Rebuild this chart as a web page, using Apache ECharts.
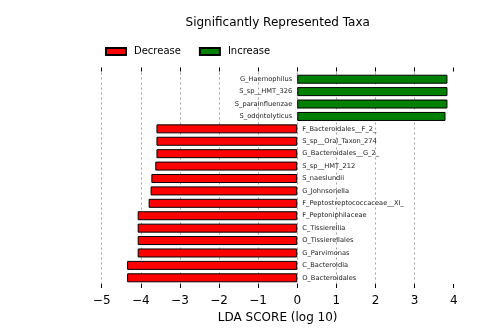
<!DOCTYPE html>
<html>
<head>
<meta charset="utf-8">
<script src="https://cdn.jsdelivr.net/npm/echarts@6/dist/echarts.min.js"></script>
<style>
html,body{margin:0;padding:0;background:#fff;}
#chart{width:504px;height:334px;}
</style>
</head>
<body>
<div id="chart"></div>
<script>
const categories = ['G_Haemophilus','S_sp__HMT_326','S_parainfluenzae','S_odontolyticus',
  'F_Bacteroidales__F_2_','S_sp__Oral_Taxon_274','G_Bacteroidales__G_2_','S_sp__HMT_212',
  'S_naeslundii','G_Johnsonella','F_Peptostreptococcaceae__XI_','F_Peptoniphilaceae',
  'C_Tissierellia','O_Tissierellales','G_Parvimonas','C_Bacteroidia','O_Bacteroidales'];
const decreaseValues = ['-','-','-','-',-3.60,-3.60,-3.60,-3.63,-3.73,-3.75,-3.80,-4.08,-4.08,-4.08,-4.08,-4.35,-4.35];
const increaseValues = [3.84,3.84,3.84,3.79,'-','-','-','-','-','-','-','-','-','-','-','-','-'];
const xTicks = [-5,-4,-3,-2,-1,0,1,2,3,4];
const titleText = 'Significantly Represented Taxa';
const axisTitle = 'LDA SCORE (log 10)';

const FONT = 'DejaVu Sans';
const L = 101.7, R = 504 - 453.7;
const chart = echarts.init(document.getElementById('chart'));
chart.setOption({
  animation: false,
  backgroundColor: '#fff',
  graphic: [{
    type: 'text', x: 277.7, y: 23,
    style: { text: titleText, x: 0, y: 0, textAlign: 'center', textVerticalAlign: 'middle',
      font: '12px "DejaVu Sans"', fill: '#000' }
  }],
  legend: {
    left: 105, top: 46.5, padding: 0, itemWidth: 20, itemHeight: 7, itemGap: 18,
    icon: 'rect', data: ['Decrease','Increase'],
    textStyle: { fontFamily: FONT, fontSize: 10, color: '#000', padding: [0,0,0,3] }
  },
  grid: [
    { left: L, right: R, top: 67.5, bottom: 46, outerBoundsMode: 'none', containLabel: false },
    { left: L, right: R, top: 73, bottom: 50, outerBoundsMode: 'none', containLabel: false }
  ],
  xAxis: [
    { type: 'value', gridIndex: 0, min: -5, max: 4, interval: 1, position: 'bottom',
      axisLine: { show: false },
      axisTick: { show: true, inside: true, length: 4, lineStyle: { color: '#000', width: 1 } },
      axisLabel: { color: '#000', fontFamily: FONT, fontSize: 12, margin: 7,
        formatter: v => (v < 0 ? '\u2212' + Math.abs(v) : String(v)) },
      splitLine: { show: true, showMinLine: true, showMaxLine: false,
        lineStyle: { color: '#a0a0a0', type: [2, 3], width: 1 } },
      name: axisTitle, nameLocation: 'middle', nameGap: 22,
      nameTextStyle: { color: '#000', fontFamily: FONT, fontSize: 12 } },
    { type: 'value', gridIndex: 0, min: -5, max: 4, interval: 1, position: 'top',
      axisLine: { show: false },
      axisTick: { show: true, inside: true, length: 4, lineStyle: { color: '#000', width: 1 } },
      axisLabel: { show: false }, splitLine: { show: false } },
    { type: 'value', gridIndex: 1, min: -5, max: 4, interval: 1, show: false }
  ],
  yAxis: [
    { type: 'value', gridIndex: 0, show: false },
    { type: 'category', gridIndex: 1, data: categories, inverse: true, show: false }
  ],
  series: [
    { name: 'Decrease', type: 'bar', xAxisIndex: 2, yAxisIndex: 1, data: decreaseValues,
      barWidth: 9, barGap: '-100%',
      itemStyle: { color: '#ff0000', borderColor: '#000', borderWidth: 1, borderRadius: 0 },
      label: { show: true, position: 'right', distance: 5, formatter: '{b}',
        fontFamily: FONT, fontSize: 6.7, color: '#222' } },
    { name: 'Increase', type: 'bar', xAxisIndex: 2, yAxisIndex: 1, data: increaseValues,
      barWidth: 9, barGap: '-100%',
      itemStyle: { color: '#008000', borderColor: '#000', borderWidth: 1, borderRadius: 0 },
      label: { show: true, position: 'left', distance: 5, formatter: '{b}',
        fontFamily: FONT, fontSize: 6.7, color: '#222' } }
  ]
});
</script>
</body>
</html>
